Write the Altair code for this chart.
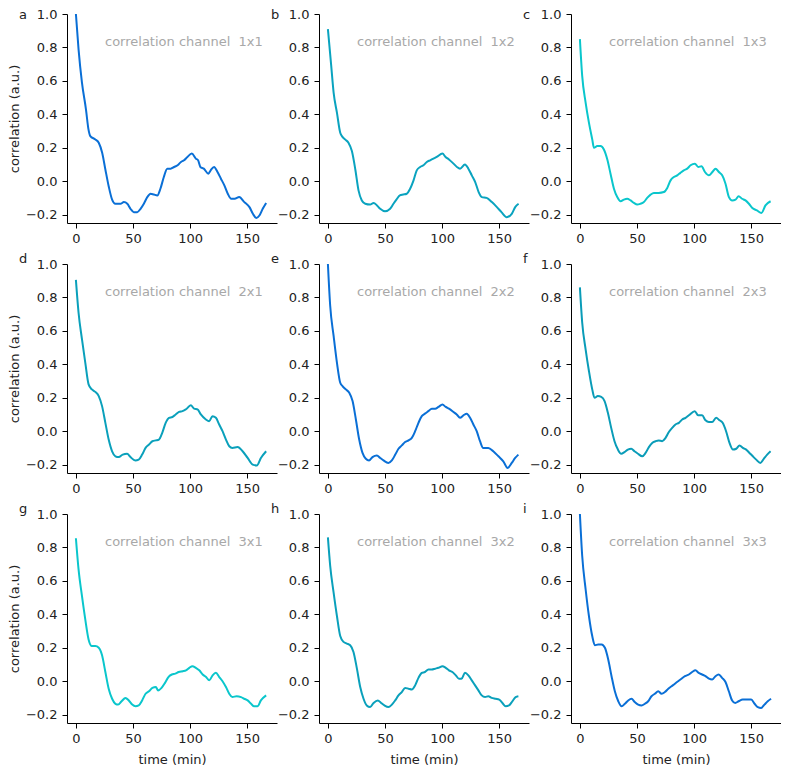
import altair as alt
import pandas as pd

letters = ["a", "b", "c", "d", "e", "f", "g", "h", "i"]
channels = ["1x1", "1x2", "1x3", "2x1", "2x2", "2x3", "3x1", "3x2", "3x3"]
line_colors = ["#0a6fd6", "#0aa3bf", "#0ac6cc",
               "#0aa0bb", "#0a6fd6", "#0a9cb8",
               "#0ac6cc", "#0aa0bb", "#0a6fd6"]
x_ticks = [0, 50, 100, 150]
y_ticks = [-0.2, 0.0, 0.2, 0.4, 0.6, 0.8, 1.0]

t_a = [0, 2.3, 5.3, 8.8, 11, 12.6, 17, 20, 23, 25.8, 28.7, 31.7, 34.6, 39, 42, 45, 47.8, 50.7, 53.7, 56.6, 59.5, 62.5, 65.4, 68.3, 71.3, 74, 77, 80, 83, 86, 89, 92, 94.7, 97.6, 101.5, 105, 107, 109, 112, 116, 118, 121, 124, 127, 130, 133, 136, 139, 143, 147.5, 152, 155, 158, 160.7, 163.6, 166.6]
c_a = [1.0, 0.79, 0.59, 0.43, 0.31, 0.27, 0.25, 0.23, 0.17, 0.07, -0.03, -0.11, -0.135, -0.135, -0.125, -0.135, -0.165, -0.185, -0.185, -0.165, -0.135, -0.095, -0.075, -0.08, -0.085, -0.045, 0.025, 0.075, 0.075, 0.085, 0.095, 0.115, 0.125, 0.145, 0.165, 0.135, 0.125, 0.085, 0.075, 0.045, 0.065, 0.085, 0.055, 0.015, -0.025, -0.075, -0.105, -0.105, -0.095, -0.125, -0.155, -0.195, -0.22, -0.205, -0.165, -0.13]

t_b = [0, 2.9, 5, 7.9, 10.8, 12.2, 15, 18, 21, 24, 26.8, 29.7, 32.7, 37, 40, 43, 45.8, 50, 54.5, 57.4, 60, 63, 66, 69, 72, 75, 77.8, 80.8, 83.7, 86.6, 89.5, 92.4, 95.3, 100.3, 103, 106, 110, 113, 115.7, 120, 123, 126, 129, 132, 134.8, 139, 143.6, 148, 152, 156.6, 161, 164, 167]
c_b = [0.91, 0.69, 0.53, 0.41, 0.29, 0.27, 0.25, 0.23, 0.18, 0.07, -0.055, -0.115, -0.135, -0.14, -0.13, -0.145, -0.165, -0.18, -0.165, -0.135, -0.11, -0.085, -0.08, -0.075, -0.045, 0.005, 0.065, 0.085, 0.095, 0.115, 0.125, 0.135, 0.145, 0.165, 0.145, 0.13, 0.105, 0.085, 0.075, 0.1, 0.075, 0.035, -0.005, -0.065, -0.095, -0.1, -0.125, -0.155, -0.185, -0.215, -0.195, -0.155, -0.135]

t_c = [0, 2, 5, 7.9, 10.8, 12.3, 15.2, 18, 21, 24, 26.8, 29.8, 32.7, 35.6, 38.5, 41.4, 44.4, 47.3, 50.2, 53, 56, 58.9, 61.9, 64.8, 69, 73.5, 76.5, 79.4, 82.3, 85.2, 88, 91, 94, 96.9, 100.7, 103.6, 106.5, 109.5, 113, 116, 118.8, 121.7, 124.6, 127.5, 130.5, 133.4, 136.3, 139, 142, 145, 148, 151, 155, 159, 162.5, 167]
c_c = [0.85, 0.63, 0.47, 0.35, 0.25, 0.2, 0.21, 0.21, 0.19, 0.13, 0.045, -0.045, -0.095, -0.12, -0.11, -0.105, -0.115, -0.13, -0.14, -0.135, -0.125, -0.1, -0.08, -0.07, -0.07, -0.065, -0.04, 0.005, 0.025, 0.035, 0.05, 0.065, 0.075, 0.095, 0.105, 0.085, 0.09, 0.055, 0.035, 0.055, 0.075, 0.055, 0.035, -0.015, -0.095, -0.115, -0.11, -0.09, -0.105, -0.115, -0.135, -0.16, -0.175, -0.19, -0.145, -0.12]

t_d = [0, 2.3, 5.3, 8.2, 11.1, 14, 17, 20, 22.9, 25.8, 28.7, 31.7, 34.6, 37.5, 41, 44.8, 47.8, 52, 55, 58, 61, 64, 67, 70, 72.7, 75.6, 78.6, 81.5, 84.5, 87.4, 90.3, 93.3, 96.2, 100.6, 103.5, 106.5, 109.4, 113.8, 116.7, 119.6, 122.6, 125.5, 128.4, 131.4, 134.3, 137, 141.6, 146, 150.4, 154.8, 158.4, 162, 166.6]
c_d = [0.905, 0.71, 0.55, 0.41, 0.28, 0.25, 0.235, 0.21, 0.15, 0.05, -0.05, -0.12, -0.15, -0.155, -0.14, -0.135, -0.155, -0.175, -0.17, -0.14, -0.1, -0.08, -0.06, -0.055, -0.05, -0.01, 0.05, 0.08, 0.085, 0.1, 0.115, 0.12, 0.13, 0.155, 0.135, 0.13, 0.1, 0.07, 0.06, 0.09, 0.08, 0.04, 0.0, -0.05, -0.09, -0.1, -0.095, -0.12, -0.16, -0.2, -0.205, -0.16, -0.12]

t_e = [0, 2, 5, 7.9, 10.8, 12.8, 15.7, 18.7, 21.6, 24.5, 27.4, 30.3, 33.2, 36, 39, 42.9, 45.8, 48.7, 53, 56, 59, 61.8, 64.7, 67.6, 70.6, 73.5, 76.4, 79.3, 82.2, 85, 88, 91, 93.9, 96.8, 100.3, 103.2, 106, 110, 112.8, 115.7, 118.7, 121.6, 124.5, 127.4, 130.3, 133.2, 136, 140.5, 144.8, 149.3, 153.6, 157.4, 161, 164, 166.8]
c_e = [1.0, 0.75, 0.57, 0.41, 0.29, 0.27, 0.25, 0.23, 0.18, 0.07, -0.05, -0.13, -0.165, -0.175, -0.155, -0.145, -0.16, -0.175, -0.19, -0.175, -0.14, -0.105, -0.085, -0.065, -0.055, -0.04, 0.0, 0.05, 0.09, 0.105, 0.12, 0.135, 0.135, 0.145, 0.16, 0.145, 0.135, 0.115, 0.1, 0.08, 0.095, 0.105, 0.08, 0.04, 0.0, -0.06, -0.1, -0.1, -0.12, -0.15, -0.18, -0.22, -0.19, -0.16, -0.14]

t_f = [0, 2, 5, 7.9, 10.8, 12.8, 15.7, 18.7, 21.6, 24.5, 27.4, 30.3, 33.3, 36.2, 39, 42, 45, 47.8, 50.8, 54.6, 57.5, 60.4, 63.3, 66.2, 69, 72, 75, 77.9, 80.8, 83.7, 86.7, 89.6, 92.5, 95.4, 100.6, 103.5, 107, 110, 112.9, 115.8, 119.3, 122.3, 125, 128, 131, 134, 136.9, 139.8, 142.7, 145.6, 148.5, 151.4, 154.4, 158, 161, 164, 167]
c_f = [0.86, 0.65, 0.49, 0.36, 0.25, 0.2, 0.21, 0.205, 0.18, 0.11, 0.02, -0.06, -0.11, -0.135, -0.125, -0.11, -0.105, -0.12, -0.135, -0.15, -0.13, -0.095, -0.07, -0.06, -0.055, -0.06, -0.04, -0.005, 0.02, 0.04, 0.05, 0.07, 0.08, 0.095, 0.12, 0.095, 0.095, 0.065, 0.055, 0.055, 0.08, 0.065, 0.05, 0.0, -0.07, -0.11, -0.105, -0.085, -0.1, -0.11, -0.13, -0.15, -0.17, -0.19, -0.165, -0.14, -0.12]

t_g = [0, 2.3, 5.3, 8.2, 11.1, 14, 17, 20, 22.9, 25.8, 28.7, 31.7, 34.6, 37, 40, 43.4, 46.3, 49.3, 52.2, 55, 58, 61, 64, 67, 70, 72, 75, 78, 81, 84, 87, 90, 93.5, 96.4, 99.3, 102, 105, 108, 111, 114, 116.8, 119.7, 122.6, 125.5, 128.4, 131.4, 134.3, 137, 140.7, 144.6, 147.4, 150.4, 153.4, 156, 159, 162, 166.6]
c_g = [0.855, 0.67, 0.51, 0.37, 0.25, 0.21, 0.21, 0.2, 0.155, 0.055, -0.045, -0.105, -0.135, -0.14, -0.12, -0.1, -0.115, -0.14, -0.15, -0.145, -0.115, -0.075, -0.06, -0.04, -0.035, -0.055, -0.04, -0.01, 0.025, 0.04, 0.045, 0.055, 0.06, 0.065, 0.08, 0.09, 0.08, 0.065, 0.04, 0.025, 0.005, 0.035, 0.05, 0.025, 0.0, -0.035, -0.075, -0.095, -0.09, -0.095, -0.105, -0.115, -0.135, -0.15, -0.15, -0.115, -0.085]

t_h = [0, 2, 5, 7.9, 10.8, 13.7, 16.6, 19.5, 22.4, 25.4, 28.3, 31.2, 34, 37, 40, 43.7, 46.6, 49.5, 53, 56, 58.9, 61.8, 64.7, 67.6, 70.6, 73.5, 76.4, 79.3, 82.2, 85, 88, 91, 93.9, 96.8, 100.3, 103.2, 106, 109, 112, 114.8, 117, 120, 123, 126, 128.9, 131.8, 134.7, 137.6, 140.5, 143.4, 147, 150, 152.8, 155.7, 158.6, 161.5, 164.4, 166.8]
c_h = [0.86, 0.69, 0.53, 0.39, 0.27, 0.235, 0.225, 0.215, 0.175, 0.075, -0.035, -0.105, -0.145, -0.155, -0.13, -0.115, -0.13, -0.145, -0.155, -0.14, -0.115, -0.085, -0.065, -0.04, -0.045, -0.05, -0.025, 0.02, 0.05, 0.055, 0.07, 0.07, 0.075, 0.08, 0.09, 0.08, 0.065, 0.055, 0.035, 0.015, 0.015, 0.05, 0.035, 0.005, -0.025, -0.055, -0.085, -0.095, -0.09, -0.1, -0.105, -0.11, -0.13, -0.15, -0.145, -0.12, -0.095, -0.09]

t_i = [0, 2, 5, 7.9, 10.8, 13.1, 16, 19, 21.9, 24.8, 27.7, 30.6, 33.6, 36.5, 39.4, 42.3, 45.2, 48, 51, 54, 56.9, 59.8, 62.7, 65.7, 68.6, 71.5, 74.4, 77.4, 80.3, 83.2, 86, 89, 92, 95.4, 98.3, 101.2, 104, 107, 110, 113, 115.8, 118.7, 121.6, 124.5, 127.5, 130.4, 133.3, 136, 139, 142.6, 146.4, 150, 153, 155.8, 158.7, 161.6, 164.5, 167.4]
c_i = [1.0, 0.75, 0.55, 0.39, 0.27, 0.215, 0.22, 0.22, 0.2, 0.13, 0.03, -0.06, -0.12, -0.15, -0.135, -0.115, -0.105, -0.125, -0.14, -0.145, -0.135, -0.12, -0.09, -0.075, -0.06, -0.075, -0.065, -0.045, -0.03, -0.015, 0.0, 0.015, 0.03, 0.04, 0.055, 0.065, 0.05, 0.04, 0.03, 0.015, 0.01, 0.03, 0.04, 0.02, -0.005, -0.06, -0.115, -0.13, -0.12, -0.11, -0.11, -0.11, -0.135, -0.155, -0.16, -0.14, -0.12, -0.105]

times = [t_a, t_b, t_c, t_d, t_e, t_f, t_g, t_h, t_i]
corrs = [c_a, c_b, c_c, c_d, c_e, c_f, c_g, c_h, c_i]

FONT = "DejaVu Sans"


def make_panel(idx):
    row, col = divmod(idx, 3)
    df = pd.DataFrame({"t": times[idx], "c": corrs[idx]})
    x_axis = alt.Axis(values=x_ticks, format="d",
                      title="time (min)" if row == 2 else None)
    y_axis = alt.Axis(values=y_ticks, format=".1f",
                      title="correlation (a.u.)" if col == 0 else None)
    line = alt.Chart(df).mark_line(
        color=line_colors[idx], strokeWidth=2, interpolate="monotone"
    ).encode(
        x=alt.X("t:Q", scale=alt.Scale(domain=[-7.8, 176.1], nice=False, zero=False), axis=x_axis),
        y=alt.Y("c:Q", scale=alt.Scale(domain=[-0.25, 1.0], nice=False, zero=False), axis=y_axis),
    )
    letter_y = 5 if row == 0 else -1
    letter = alt.Chart(pd.DataFrame({"s": [letters[idx]]})).mark_text(
        align="left", baseline="alphabetic", fontSize=13, font=FONT, color="#222222"
    ).encode(x=alt.value(-48), y=alt.value(letter_y), text="s:N")
    label = alt.Chart(pd.DataFrame({"s": ["correlation channel\u00a0 " + channels[idx]]})).mark_text(
        align="left", baseline="middle", fontSize=13, font=FONT, color="#a8a8a8"
    ).encode(x=alt.value(38), y=alt.value(28), text="s:N")
    return alt.layer(line, letter, label).properties(width=210, height=209)


chart = alt.concat(
    *[make_panel(i) for i in range(9)],
    columns=3,
    spacing={"row": 41, "column": 42},
    bounds="flush",
).properties(
    padding={"left": 0, "top": 0, "right": 0, "bottom": 0}
).configure_view(stroke=None).configure_axis(
    grid=False,
    domainColor="#000000",
    tickColor="#000000",
    domainWidth=1,
    tickWidth=1,
    tickSize=5,
    labelFont=FONT,
    labelFontSize=13,
    labelColor="#222222",
    labelPadding=5,
    titleFont=FONT,
    titleFontSize=13,
    titleFontWeight="normal",
    titleColor="#222222",
).configure_axisY(titlePadding=4).configure_axisX(titlePadding=8, labelPadding=4)

chart.save("out.html", embed_options={"renderer": "svg", "actions": False})
